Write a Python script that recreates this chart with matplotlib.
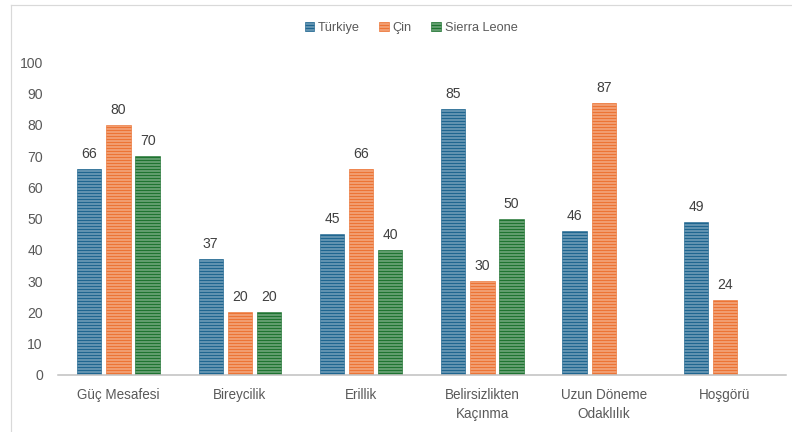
import numpy as np
import matplotlib.pyplot as plt
from matplotlib.patches import Patch
from matplotlib.colors import to_rgb

plt.rcParams['font.family'] = ['Liberation Sans', 'DejaVu Sans']
plt.rcParams['hatch.linewidth'] = 1.7

categories = ["Güç Mesafesi", "Bireycilik", "Erillik", "Belirsizlikten\nKaçınma",
              "Uzun Döneme\nOdaklılık", "Hoşgörü"]
turkiye = [66, 37, 45, 85, 46, 49]
cin = [80, 20, 66, 30, 87, 24]
sierra = [70, 20, 40, 50, None, None]

series = [("Türkiye", turkiye, "#1f6690"),
          ("Çin", cin, "#ec7435"),
          ("Sierra Leone", sierra, "#1f7431")]

def light(c, a=0.45):
    r, g, b = to_rgb(c)
    return (r + (1 - r) * a, g + (1 - g) * a, b + (1 - b) * a)

fig = plt.figure(figsize=(11, 6), dpi=72)
ax = fig.add_axes([0.073, 0.132, 0.919, 0.724])

x = np.arange(len(categories))
offsets = [-0.24, 0, 0.24]
w = 0.2
txt = "#595959"

for (name, vals, col), off in zip(series, offsets):
    for xi, v in zip(x, vals):
        if v is None:
            continue
        ax.bar(xi + off, v, w, facecolor=light(col), edgecolor=col,
               hatch="----", linewidth=0.6)
        ax.annotate(str(v), (xi + off, v), xytext=(0, 8), textcoords="offset points",
                    ha="center", va="bottom", fontsize=14, color="#404040")

ax.set_xlim(-0.5, len(categories) - 0.5)
ax.set_ylim(0, 100)
ax.set_yticks(range(0, 101, 10))
ax.set_xticks(x)
ax.set_xticklabels(categories, fontsize=13.5, color=txt, linespacing=1.45)
ax.tick_params(axis="y", length=0, labelsize=14, labelcolor=txt, pad=15)
ax.tick_params(axis="x", length=0, pad=13)
for s in ["top", "right", "left"]:
    ax.spines[s].set_visible(False)
ax.spines["bottom"].set_color("#bfbfbf")
ax.spines["bottom"].set_linewidth(1.5)

handles = [Patch(facecolor=light(c), edgecolor=c, hatch="----", linewidth=0.6, label=n)
           for n, _, c in series]
fig.legend(handles=handles, loc="center", bbox_to_anchor=(0.519, 0.935), ncol=3,
           frameon=False, fontsize=12.8, handlelength=0.75, handleheight=0.75,
           handletextpad=0.3, columnspacing=1.5, labelcolor=txt)

# thin frame line along the left and top edges
fig.add_artist(plt.Line2D([0.014, 0.014], [0, 0.988], transform=fig.transFigure,
                          color="#d9d9d9", lw=1.2))
fig.add_artist(plt.Line2D([0.014, 1], [0.988, 0.988], transform=fig.transFigure,
                          color="#d9d9d9", lw=1.2))

fig.savefig("out.png", dpi=72)
